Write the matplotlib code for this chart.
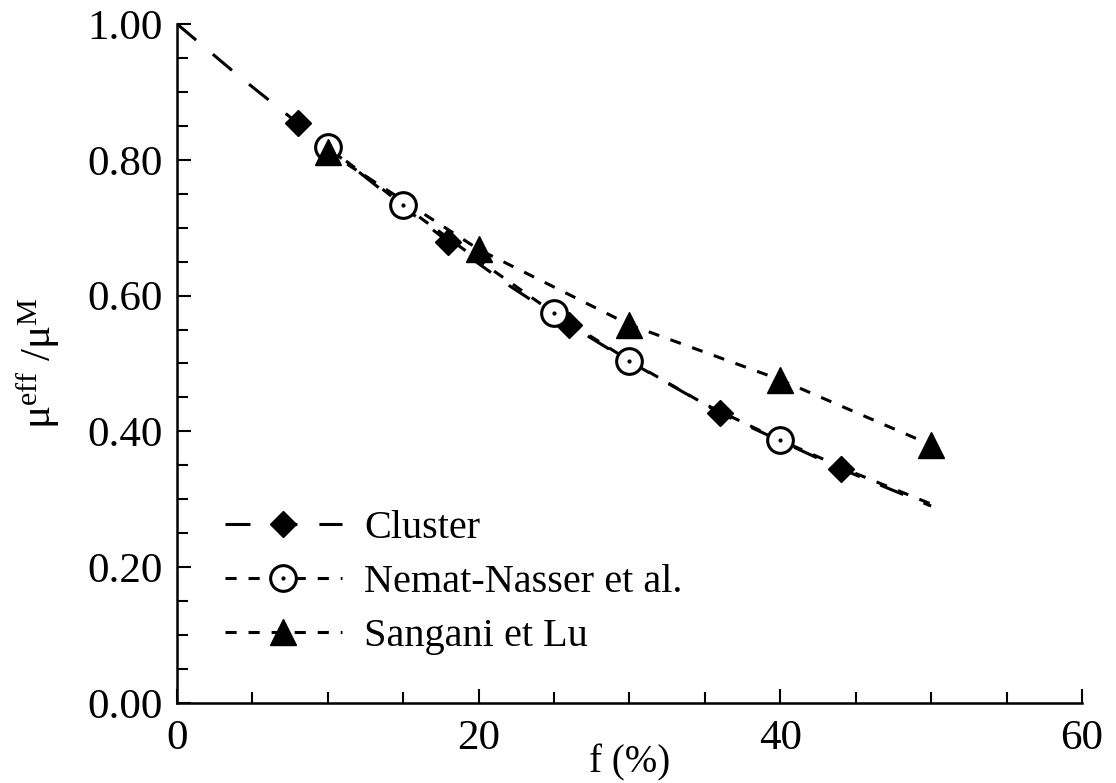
import matplotlib
matplotlib.use("Agg")
import matplotlib.pyplot as plt
from matplotlib.legend_handler import HandlerTuple

plt.rcParams["font.family"] = ["Liberation Serif", "DejaVu Serif"]
plt.rcParams["mathtext.fontset"] = "custom"
plt.rcParams["mathtext.rm"] = "Liberation Serif"
plt.rcParams["mathtext.it"] = "Liberation Serif:italic"
plt.rcParams["mathtext.bf"] = "Liberation Serif:bold"
plt.rcParams["lines.scale_dashes"] = False

# Cluster model: curve and symbols
cluster_curve_f = [0, 4, 8, 10, 14, 18, 22, 26, 30, 36, 40, 44, 50]
cluster_curve_mu = [1.00, 0.925, 0.854, 0.818, 0.748, 0.679, 0.615, 0.557,
                    0.503, 0.427, 0.386, 0.345, 0.290]
cluster_f = [8, 18, 26, 36, 44]
cluster_mu = [0.854, 0.679, 0.557, 0.427, 0.345]

# Nemat-Nasser et al.
nemat_curve_f = [10, 15, 20, 25, 30, 35, 40, 45, 50]
nemat_curve_mu = [0.819, 0.733, 0.652, 0.574, 0.504, 0.440, 0.387, 0.338, 0.293]
nemat_f = [10, 15, 25, 30, 40]
nemat_mu = [0.819, 0.733, 0.574, 0.504, 0.387]

# Sangani et Lu
sangani_f = [10, 20, 30, 40, 50]
sangani_mu = [0.812, 0.668, 0.557, 0.476, 0.380]

x_ticks = [0, 20, 40, 60]
y_ticks = [0.0, 0.2, 0.4, 0.6, 0.8, 1.0]

LONG = (0, (18, 15.8))
SHORT = (0, (8, 8.6))
LW = 2.2

fig = plt.figure(figsize=(11.16, 7.83), dpi=100)
ax = fig.add_axes([0.1586, 0.1022, 0.8109, 0.8672])

# curves
ax.plot(cluster_curve_f, cluster_curve_mu, color="black", lw=LW, ls=LONG)
ax.plot(nemat_curve_f, nemat_curve_mu, color="black", lw=LW, ls=SHORT)
ax.plot(sangani_f, sangani_mu, color="black", lw=LW, ls=SHORT)

# symbols
ax.plot(cluster_f, cluster_mu, ls="none", marker="D", ms=13.5, color="black")
ax.plot(nemat_f, nemat_mu, ls="none", marker="o", ms=18.5, mew=2.2,
        mfc="white", mec="black")
ax.plot(nemat_f, nemat_mu, ls="none", marker="o", ms=2, color="black")
ax.plot(sangani_f, sangani_mu, ls="none", marker="^", ms=19, color="black")

# legend handles
h_cluster, = ax.plot([], [], color="black", lw=LW, ls=LONG, marker="D", ms=13.5)
h_nemat, = ax.plot([], [], color="black", lw=LW, ls=SHORT, marker="o",
                   ms=18.5, mew=2.2, mfc="white", mec="black")
h_dot, = ax.plot([], [], ls="none", marker="o", ms=2, color="black")
h_sangani, = ax.plot([], [], color="black", lw=LW, ls=SHORT, marker="^", ms=19)

ax.legend([h_cluster, (h_nemat, h_dot), h_sangani],
          ["Cluster", "Nemat-Nasser et al.", "Sangani et Lu"],
          handler_map={tuple: HandlerTuple(ndivide=1)},
          loc="upper left", bbox_to_anchor=(0.053, 0.285), frameon=False,
          fontsize=29, handlelength=2.9, handletextpad=0.55,
          labelspacing=0.42, borderpad=0, borderaxespad=0, numpoints=1)

ax.set_xlim(0, 60)
ax.set_ylim(0, 1.0)
ax.set_xticks(x_ticks)
ax.set_xticks(range(0, 61, 5), minor=True)
ax.set_yticks(y_ticks)
ax.set_yticks([i * 0.05 for i in range(21)], minor=True)
ax.set_yticklabels([f"{v:.2f}" for v in y_ticks])
ax.tick_params(which="both", direction="in", width=1.5, labelsize=31,
               top=False, right=False)
ax.tick_params(which="major", length=10)
ax.tick_params(which="minor", length=8)
ax.tick_params(axis="x", pad=12)
ax.tick_params(axis="y", pad=10)

for side in ["top", "right"]:
    ax.spines[side].set_visible(False)
for side in ["left", "bottom"]:
    ax.spines[side].set_linewidth(1.8)

ax.set_xlabel("f (%)", fontsize=28, labelpad=-10)
ax.set_ylabel(r"μ$^{\rm eff}$ /μ$^{\rm M}$", fontsize=31)
ax.yaxis.set_label_coords(-0.127, 0.5)

fig.savefig("out.png", dpi=100)
